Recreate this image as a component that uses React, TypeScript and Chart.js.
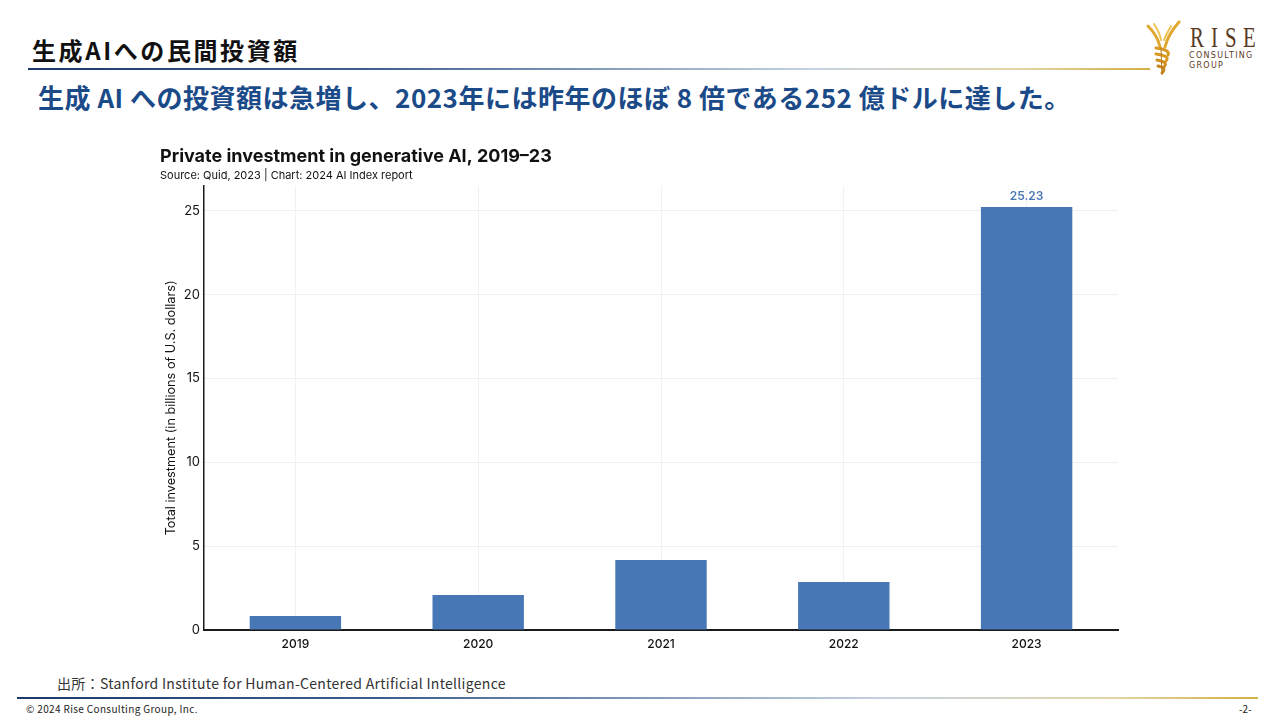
import React, { useEffect, useRef } from "react";
import { Chart, registerables } from "chart.js";

Chart.register(...registerables);

const categories = ["2019", "2020", "2021", "2022", "2023"];
const investment = [0.84, 2.09, 4.18, 2.86, 25.23];
const barLabels = ["", "", "", "", "25.23"];
const yTicks = [0, 5, 10, 15, 20, 25];

const pageTitle = "生成AIへの民間投資額";
const headline = "生成 AI への投資額は急増し、2023年には昨年のほぼ 8 倍である252 億ドルに達した。";
const chartTitle = "Private investment in generative AI, 2019–23";
const chartSubtitle = "Source: Quid, 2023 | Chart: 2024 AI Index report";
const yAxisTitle = "Total investment (in billions of U.S. dollars)";
const sourceNote = "出所：Stanford Institute for Human-Centered Artificial Intelligence";
const copyright = "© 2024 Rise Consulting Group, Inc.";
const pageNo = "-2-";
const logoLetters = ["R", "I", "S", "E"];

const FONT = "Inter, 'Noto Sans', sans-serif";
const BAR = "#4877b5";

const labelPlugin = {
  id: "barValueLabels",
  afterDatasetsDraw(chart: any) {
    const ctx = chart.ctx;
    const meta = chart.getDatasetMeta(0);
    ctx.save();
    ctx.font = `600 12px ${FONT}`;
    ctx.fillStyle = "#4a78b4";
    ctx.textAlign = "center";
    ctx.textBaseline = "bottom";
    meta.data.forEach((el: any, i: number) => {
      const t = barLabels[i];
      if (t) ctx.fillText(t, el.x, el.y - 5);
    });
    ctx.restore();
  },
};

function BarChart() {
  const ref = useRef<HTMLCanvasElement | null>(null);
  useEffect(() => {
    if (!ref.current) return;
    const chart = new Chart(ref.current, {
      type: "bar",
      data: {
        labels: categories,
        datasets: [
          {
            data: investment,
            backgroundColor: BAR,
            barPercentage: 0.5,
            categoryPercentage: 1,
          },
        ],
      },
      options: {
        animation: false,
        responsive: false,
        maintainAspectRatio: false,
        layout: { padding: { left: 10, right: 12, top: 0, bottom: 0 } },
        plugins: {
          legend: { display: false },
          tooltip: { enabled: false },
          title: {
            display: true,
            text: chartTitle,
            align: "start",
            color: "#111",
            font: { family: FONT, size: 18, weight: "bold" },
            padding: { top: 6, bottom: 1 },
          },
          subtitle: {
            display: true,
            text: chartSubtitle,
            align: "start",
            color: "#111",
            font: { family: FONT, size: 11 },
            padding: { top: 0, bottom: 4 },
          },
        },
        scales: {
          x: {
            grid: { offset: false, color: "#f1f1f1", drawTicks: false },
            border: { color: "#1a1a1a", width: 2 },
            ticks: {
              color: "#111",
              font: { family: FONT, size: 12, weight: 500 },
              padding: 7,
            },
            afterFit: (s: any) => {
              s.height = 30;
            },
          },
          y: {
            min: 0,
            max: 26.5,
            afterBuildTicks: (s: any) => {
              s.ticks = yTicks.map((v) => ({ value: v }));
            },
            grid: { color: "#efefef", drawTicks: false },
            border: { color: "#1a1a1a", width: 1.5 },
            ticks: {
              color: "#111",
              font: { family: FONT, size: 13 },
              padding: 4,
            },
            title: {
              display: true,
              text: yAxisTitle,
              color: "#111",
              font: { family: FONT, size: 12.7 },
              padding: { top: 4, bottom: 0 },
            },
            afterFit: (s: any) => {
              s.width = 44;
            },
          },
        },
      },
      plugins: [labelPlugin],
    });
    return () => chart.destroy();
  }, []);
  return (
    <canvas
      ref={ref}
      width={980}
      height={520}
      style={{ position: "absolute", left: 150, top: 140, width: 980, height: 520 }}
    />
  );
}

function Logo() {
  const letterX = [0, 21, 35, 53];
  return (
    <div style={{ position: "absolute", left: 1145, top: 20, width: 130, height: 56 }}>
      <svg width="40" height="56" viewBox="0 0 40 56" style={{ position: "absolute", left: 0, top: 0 }}>
        <g fill="none" strokeLinecap="round">
          <path d="M3 6 C 9 12, 13 18, 15 27" stroke="#e0a830" strokeWidth="3" />
          <path d="M34 2 C 27 10, 22 18, 20 27" stroke="#e0a830" strokeWidth="3" />
          <path d="M9 4 C 13 10, 15 14, 16 20" stroke="#edc352" strokeWidth="2" />
          <path d="M26 6 C 23 11, 21 15, 19 20" stroke="#edc352" strokeWidth="2" />
          <path d="M11 28 C 19 29, 25 31, 23 35" stroke="#d99a24" strokeWidth="3" />
          <path d="M11 34 C 18 35, 25 37, 21 41" stroke="#d99a24" strokeWidth="3" />
          <path d="M12 40 C 18 41, 23 43, 19 47" stroke="#cf8e1e" strokeWidth="3" />
          <path d="M13 46 C 18 47, 21 49, 17 53" stroke="#c5841c" strokeWidth="3" />
          <path d="M16 28 L 17 54" stroke="#b87a1a" strokeWidth="1" />
        </g>
      </svg>
      {logoLetters.map((l, i) => (
        <div
          key={l}
          style={{
            position: "absolute",
            left: 45 + letterX[i],
            top: 1,
            fontFamily: "'Liberation Serif', serif",
            fontSize: 29,
            color: "#5b3a24",
            lineHeight: "32px",
            transform: "scaleX(0.72)",
            transformOrigin: "left top",
          }}
        >
          {l}
        </div>
      ))}
      <div
        style={{
          position: "absolute",
          left: 44,
          top: 31,
          fontFamily: "'DejaVu Sans', sans-serif",
          fontSize: 8,
          letterSpacing: 1.3,
          color: "#5b3a24",
          lineHeight: "10px",
        }}
      >
        CONSULTING
        <br />
        GROUP
      </div>
    </div>
  );
}

export default function App() {
  const lineGrad =
    "linear-gradient(to right, #1b3a6b 0%, #3d5f8f 30%, #c5d2e0 70%, #e2d6a8 88%, #d4b043 100%)";
  return (
    <div
      style={{
        position: "absolute",
        left: 0,
        top: 0,
        width: 1280,
        height: 720,
        background: "#fff",
        overflow: "hidden",
        fontFamily: "'Noto Sans CJK JP', sans-serif",
      }}
    >
      <div
        style={{
          position: "absolute",
          left: 32,
          top: 34,
          fontSize: 24,
          fontWeight: 700,
          color: "#111",
          lineHeight: "32px",
          letterSpacing: 2.6,
          whiteSpace: "nowrap",
        }}
      >
        {pageTitle}
      </div>
      <div style={{ position: "absolute", left: 28, top: 68, width: 1122, height: 2, background: lineGrad }} />
      <Logo />
      <div
        style={{
          position: "absolute",
          left: 38,
          top: 79,
          fontSize: 26,
          fontWeight: 700,
          color: "#1b4a88",
          lineHeight: "36px",
          letterSpacing: 0.5,
          whiteSpace: "nowrap",
        }}
      >
        {headline}
      </div>
      <BarChart />
      <div
        style={{
          position: "absolute",
          left: 57,
          top: 673,
          fontSize: 14,
          color: "#333",
          lineHeight: "20px",
          letterSpacing: 0.3,
          whiteSpace: "nowrap",
        }}
      >
        {sourceNote}
      </div>
      <div style={{ position: "absolute", left: 17, top: 697, width: 1241, height: 2, background: lineGrad }} />
      <div
        style={{
          position: "absolute",
          left: 26,
          top: 702,
          fontSize: 10,
          color: "#222",
          lineHeight: "14px",
          letterSpacing: 0.35,
          whiteSpace: "nowrap",
        }}
      >
        {copyright}
      </div>
      <div
        style={{
          position: "absolute",
          left: 1239,
          top: 702,
          fontSize: 10,
          color: "#222",
          lineHeight: "14px",
        }}
      >
        {pageNo}
      </div>
    </div>
  );
}
